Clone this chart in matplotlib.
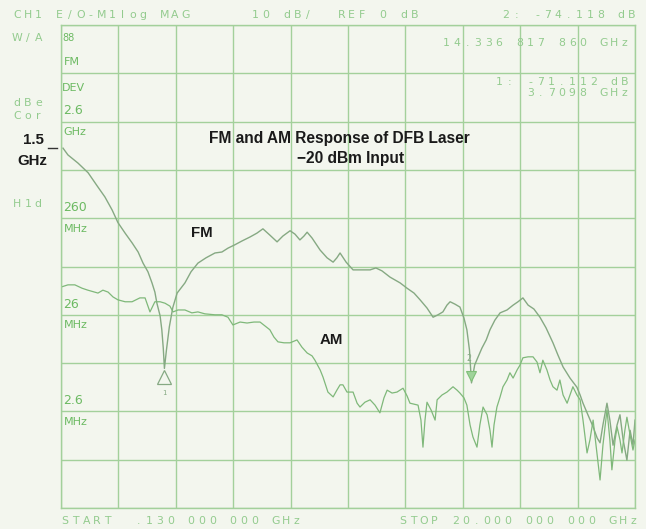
import numpy as np
import matplotlib.pyplot as plt
from matplotlib.lines import Line2D

# analyzer sweep: start/stop in GHz, log magnitude in dB (REF 0 dB, 10 dB/div)
f_start = 0.13
f_stop = 20.0

fm_freq = [0.20, 0.37, 0.72, 1.07, 1.38, 1.65, 1.90, 2.10, 2.35, 2.59, 2.80, 2.97,
           3.14, 3.28, 3.38, 3.45, 3.56, 3.62, 3.67, 3.71, 3.78, 3.88, 4.00, 4.15,
           4.42, 4.63, 4.87, 5.15, 5.46, 5.70, 5.91, 6.15, 6.40, 6.67, 6.91, 7.12,
           7.36, 7.61, 7.81, 8.06, 8.23, 8.40, 8.54, 8.65, 8.82, 9.10, 9.34, 9.55,
           9.68, 9.79, 10.00, 10.24, 10.48, 10.83, 11.03, 11.24, 11.52, 11.87, 12.11,
           12.35, 12.56, 12.80, 13.01, 13.18, 13.35, 13.49, 13.60, 13.77, 13.94,
           14.08, 14.18, 14.27, 14.34, 14.45, 14.57, 14.70, 14.85, 14.98, 15.15,
           15.33, 15.57, 15.78, 15.95, 16.12, 16.30, 16.50, 16.71, 16.92, 17.16,
           17.33, 17.51, 17.75, 17.99, 18.10, 18.20, 18.37, 18.55, 18.69, 18.79,
           18.89, 19.03, 19.13, 19.24, 19.38, 19.48, 19.59, 19.72, 19.83, 19.93, 20.0]
fm_db = [-25.5, -26.9, -28.6, -30.6, -33.3, -35.6, -38.3, -40.9, -43.1, -45.1, -47.0, -49.3,
         -51.1, -53.4, -55.3, -57.6, -60.2, -63.1, -66.9, -71.1, -67.3, -62.5, -58.5, -55.5,
         -53.4, -51.1, -49.3, -48.2, -47.2, -47.0, -46.2, -45.5, -44.7, -43.9, -43.1, -42.2,
         -43.5, -44.9, -43.7, -42.6, -43.3, -44.5, -43.7, -42.9, -44.1, -46.6, -48.2, -49.1,
         -48.2, -47.2, -49.1, -50.7, -50.7, -50.7, -50.3, -50.9, -52.2, -53.4, -54.5,
         -55.5, -56.9, -58.6, -60.5, -60.0, -59.4, -58.0, -57.3, -57.8, -58.4,
         -60.7, -63.1, -67.3, -74.1, -70.4, -68.7, -66.9, -65.2, -63.1, -61.1,
         -59.6, -59.0, -58.0, -57.3, -56.5, -58.0, -58.8, -60.5, -62.7, -65.8,
         -68.3, -70.8, -73.1, -75.0, -76.6, -78.3, -80.7, -83.2, -85.5, -86.5,
         -82.8, -78.3, -81.8, -87.0, -82.8, -80.7, -85.9, -90.1, -83.9, -87.0, -81.8]

am_freq = [0.16, 0.37, 0.61, 0.86, 1.06, 1.41, 1.58, 1.76, 1.93, 2.10, 2.35, 2.59,
           2.86, 3.04, 3.21, 3.38, 3.56, 3.73, 3.90, 4.01, 4.18, 4.42, 4.66, 4.87,
           5.11, 5.46, 5.70, 5.91, 6.08, 6.33, 6.57, 6.81, 7.02, 7.19, 7.36, 7.50,
           7.64, 7.85, 8.06, 8.30, 8.47, 8.65, 8.82, 8.92, 9.10, 9.20, 9.37, 9.55,
           9.68, 9.79, 9.89, 10.03, 10.24, 10.38, 10.48, 10.65, 10.83, 11.00, 11.17,
           11.31, 11.42, 11.59, 11.76, 11.97, 12.11, 12.21, 12.49, 12.59, 12.66,
           12.73, 12.80, 12.94, 13.08, 13.15, 13.32, 13.49, 13.70, 13.84, 13.94,
           14.08, 14.18, 14.29, 14.39, 14.53, 14.63, 14.74, 14.88, 14.98, 15.05,
           15.12, 15.22, 15.33, 15.43, 15.57, 15.67, 15.78, 15.92, 16.02, 16.12,
           16.30, 16.47, 16.61, 16.71, 16.81, 16.95, 17.06, 17.16, 17.30, 17.40,
           17.51, 17.65, 17.75, 17.85, 17.99, 18.10, 18.20, 18.34, 18.44, 18.55,
           18.69, 18.79, 18.89, 19.03, 19.13, 19.20, 19.31, 19.38, 19.48, 19.55,
           19.65, 19.72, 19.83, 19.93, 20.0]
am_db = [-54.2, -53.8, -53.8, -54.5, -54.9, -55.5, -54.9, -55.3, -56.3, -56.9, -57.3, -57.3,
         -56.5, -56.5, -59.4, -57.3, -57.3, -57.6, -58.2, -59.4, -59.0, -59.0, -59.6, -59.4,
         -59.8, -60.0, -60.0, -60.5, -62.1, -61.5, -61.7, -61.5, -61.5, -62.3, -63.1, -64.6,
         -65.6, -65.8, -65.8, -65.2, -66.7, -67.9, -68.5, -69.4, -71.4, -72.9, -76.0, -77.0,
         -75.6, -74.5, -74.5, -76.0, -76.0, -78.3, -79.1, -78.1, -77.6, -78.7, -80.3,
         -77.2, -75.6, -76.2, -76.0, -75.2, -76.8, -78.3, -78.7, -81.8, -87.4,
         -81.8, -78.1, -79.7, -81.8, -77.6, -76.6, -76.0, -74.9, -75.6, -76.2,
         -77.2, -78.7, -82.8, -85.3, -87.4, -82.8, -79.1, -80.7, -83.9, -87.4,
         -82.8, -79.1, -77.0, -74.9, -73.5, -72.0, -73.1, -71.4, -70.4, -68.9,
         -68.7, -68.7, -69.8, -72.0, -69.4, -71.4, -73.5, -74.9, -75.6, -73.5,
         -76.6, -78.3, -76.6, -74.9, -76.6, -77.6, -81.8, -88.6, -85.9, -81.8,
         -89.0, -94.2, -87.0, -79.7, -85.9, -92.1, -85.9, -83.2, -85.9, -88.6,
         -83.9, -81.2, -84.9, -88.0, -85.9]

# FM deviation scale labels (at the dB grid lines)
dev_labels = [("2.6", "GHz", -20), ("260", "MHz", -40), ("26", "MHz", -60), ("2.6", "MHz", -80)]

# markers
mk1_freq, mk1_db = 3.7098, -71.112
mk2_freq, mk2_db = 14.336817860, -74.118

paper = "#f3f6ee"
grid_green = "#a3d09b"
trace_green = "#86a983"
text_green = "#6cba62"
faint_green = "#93cb8e"

W, H = 646, 529
fig = plt.figure(figsize=(W / 100, H / 100), dpi=100, facecolor=paper)
ax = fig.add_axes([61 / W, 1 - 508 / H, (635 - 61) / W, (508 - 25) / H])
ax.set_facecolor(paper)

ax.set_xlim(f_start, f_stop)
ax.set_ylim(-100, 0)
ax.set_xticks(np.linspace(f_start, f_stop, 11))
ax.set_yticks(np.arange(-100, 1, 10))
ax.tick_params(length=0, labelbottom=False, labelleft=False)
ax.grid(True, color=grid_green, lw=1.0)
for s in ax.spines.values():
    s.set_color(grid_green)
    s.set_linewidth(1.0)

ax.plot(fm_freq, fm_db, color=trace_green, lw=1.0)
ax.plot(am_freq, am_db, color="#7fb87a", lw=0.9)

# marker 1 (open triangle under the FM notch)
ax.plot(mk1_freq, mk1_db - 1.7, marker="^", ms=10, mfc=paper, mec=trace_green, mew=0.9)
ax.text(mk1_freq, mk1_db - 5.0, "1", color=trace_green, fontsize=5, ha="center", va="center",
        family="DejaVu Sans Mono")
# marker 2
ax.plot(mk2_freq, mk2_db + 1.5, marker="v", ms=7, mfc="#9fd39a", mec="#7fbf78", mew=0.8)
ax.text(mk2_freq - 0.1, mk2_db + 5.0, "2", color=trace_green, fontsize=6, ha="center",
        va="center", family="DejaVu Sans Mono")

# deviation labels inside the left column
lab_x = 0.17
ax.text(lab_x, -2.7, "88", color=text_green, fontsize=7, va="center", family="DejaVu Sans")
ax.text(lab_x + 0.05, -7.6, "FM", color=text_green, fontsize=8, va="center", family="DejaVu Sans")
ax.text(lab_x, -13.0, "DEV", color=text_green, fontsize=8, va="center", family="DejaVu Sans")
for top, unit, level in dev_labels:
    ax.text(lab_x + 0.05, level + 2.2, top, color=text_green, fontsize=9, va="center",
            family="DejaVu Sans")
    ax.text(lab_x + 0.05, level - 2.2, unit, color=text_green, fontsize=8, va="center",
            family="DejaVu Sans")

# black annotations
black = dict(fontweight="bold", ha="center", va="center", family="Liberation Sans",
             color="#1a1a1a")
ax.text(9.75, -23.6, "FM and AM Response of DFB Laser", fontsize=11.2, **black)
ax.text(10.15, -27.6, "\u221220 dBm Input", fontsize=11.2, **black)
ax.text(5.0, -43.0, "FM", fontsize=10.8, **black)
ax.text(9.5, -65.2, "AM", fontsize=10.8, **black)

# 1.5 GHz reference tick on the left
fig.text(33 / W, 1 - 140 / H, "1.5", fontsize=10.8, **black)
fig.text(32 / W, 1 - 161 / H, "GHz", fontsize=10.8, **black)
fig.add_artist(Line2D([48 / W, 57 / W], [1 - 148 / H, 1 - 148 / H], color="#333333", lw=1.0))


# analyzer screen text: wide plotter-style characters on a fixed pitch
def screen_text(x_px, y_px, s, align="left", pitch=10.5, size=7.8, color=faint_green):
    if align == "right":
        x_px = x_px - pitch * len(s)
    for i, ch in enumerate(s):
        if ch == " ":
            continue
        fig.text((x_px + pitch * (i + 0.5)) / W, 1 - y_px / H, ch, color=color,
                 fontsize=size, family="DejaVu Sans", ha="center", va="center")


screen_text(12, 15, "CH1 E/O-M1log MAG")
screen_text(250, 15, "10 dB/")
screen_text(336, 15, "REF 0 dB")
screen_text(637, 15, "2: -74.118 dB", align="right")
screen_text(12, 38, "W/A")
screen_text(12, 103, "dBe")
screen_text(12, 116, "Cor")
screen_text(12, 204, "H1d")
screen_text(630, 43, "14.336 817 860 GHz", align="right")
screen_text(630, 82, "1: -71.112 dB", align="right")
screen_text(630, 93, "3.7098 GHz", align="right")
screen_text(60, 521, "START  .130 000 000 GHz")
screen_text(639, 521, "STOP 20.000 000 000 GHz", align="right")

fig.savefig("out.png", dpi=100, facecolor=paper)
